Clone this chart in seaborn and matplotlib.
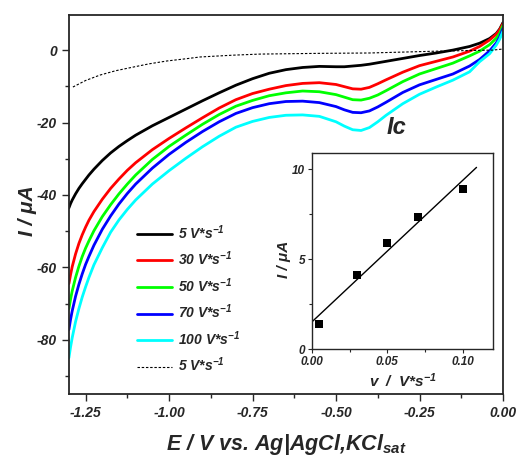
import numpy as np
import pandas as pd
import matplotlib
matplotlib.use("Agg")
import matplotlib.pyplot as plt
import seaborn as sns
from matplotlib.ticker import MultipleLocator, FormatStrFormatter

# potential grid (V vs Ag/AgCl) shared by the five CVs
E = [-1.30, -1.295, -1.29, -1.28, -1.27, -1.26, -1.25, -1.24, -1.225, -1.20,
     -1.175, -1.15, -1.125, -1.10, -1.05, -1.00, -0.95, -0.90, -0.85, -0.80,
     -0.75, -0.70, -0.65, -0.60, -0.55, -0.50, -0.475, -0.45, -0.425, -0.40,
     -0.375, -0.35, -0.30, -0.25, -0.20, -0.15, -0.10, -0.07, -0.04, -0.02,
     -0.01, 0.0]

# current (uA) for each scan rate
i_5 = [-43.6, -42.4, -41.4, -39.7, -38.2, -36.9, -35.7, -34.5, -32.9, -30.5,
       -28.4, -26.6, -25.0, -23.5, -20.9, -18.6, -16.3, -14.0, -11.8, -9.7,
       -7.9, -6.4, -5.4, -4.8, -4.5, -4.6, -4.6, -4.4, -4.2, -3.9,
       -3.5, -3.1, -2.3, -1.5, -0.8, 0.0, 1.0, 1.9, 3.2, 4.6,
       5.8, 7.6]
i_30 = [-64.5, -62.0, -59.8, -56.3, -53.4, -51.0, -48.9, -47.0, -44.6, -41.2,
        -38.2, -35.6, -33.2, -31.1, -27.5, -24.4, -21.5, -18.7, -16.0, -13.7,
        -12.0, -10.8, -9.8, -9.2, -9.0, -9.5, -10.1, -10.7, -10.8, -10.3,
        -9.3, -8.2, -6.1, -4.3, -3.1, -1.9, -0.3, 1.0, 2.8, 4.4,
        5.6, 7.3]
i_50 = [-71.5, -68.8, -66.5, -62.8, -59.7, -57.0, -54.7, -52.7, -49.9, -46.0,
        -42.7, -39.7, -37.0, -34.5, -30.2, -26.6, -23.5, -20.5, -17.8, -15.5,
        -13.9, -12.6, -11.8, -11.3, -11.5, -12.3, -13.0, -13.7, -13.8, -13.3,
        -12.4, -11.2, -8.7, -6.6, -5.1, -3.6, -1.6, -0.3, 1.5, 3.3,
        4.6, 6.8]
i_70 = [-77.2, -74.4, -72.0, -68.0, -64.7, -61.8, -59.2, -57.0, -53.9, -49.5,
        -45.8, -42.5, -39.6, -37.0, -32.6, -28.8, -25.5, -22.5, -19.8, -17.5,
        -15.9, -14.8, -14.2, -14.1, -14.5, -15.6, -16.5, -17.2, -17.3, -16.8,
        -15.7, -14.4, -11.7, -9.6, -8.1, -6.6, -4.4, -2.6, -0.2, 2.0,
        3.6, 6.0]
i_100 = [-85.0, -82.0, -79.4, -75.0, -71.4, -68.2, -65.4, -62.8, -59.3, -54.6,
         -50.3, -46.9, -44.0, -41.4, -37.0, -33.3, -29.9, -26.7, -23.8, -21.3,
         -19.7, -18.6, -18.0, -17.9, -18.3, -19.8, -21.0, -22.0, -22.2, -21.4,
         -19.8, -18.0, -14.8, -12.2, -10.2, -8.3, -6.0, -3.2, -1.0, 1.4,
         3.0, 5.2]

# blank electrode at 5 V/s (dashed)
blank_E = [-1.288, -1.25, -1.207, -1.16, -1.108, -1.06, -1.006, -0.95, -0.907,
           -0.808, -0.727, -0.55, -0.40, -0.20, -0.03, 0.0]
blank_I = [-10.2, -8.4, -6.9, -5.7, -4.7, -3.8, -3.0, -2.4, -1.9,
           -1.4, -1.1, -0.9, -0.8, -0.3, 0.0, 0.3]

rate_labels = ["5", "30", "50", "70", "100"]
rate_colors = ["black", "red", "#00ff00", "blue", "cyan"]

# inset: peak current vs scan rate
inset_v = [0.005, 0.03, 0.05, 0.07, 0.10]
inset_I = [1.4, 4.1, 5.9, 7.35, 8.9]

sns.set_style("ticks")
plt.rcParams["font.family"] = ["Liberation Sans", "DejaVu Sans"]
plt.rcParams["font.weight"] = "bold"
plt.rcParams["font.style"] = "italic"
plt.rcParams["axes.labelweight"] = "bold"
plt.rcParams["mathtext.fontset"] = "custom"
plt.rcParams["mathtext.rm"] = "Liberation Sans:bold:italic"
plt.rcParams["mathtext.it"] = "Liberation Sans:bold:italic"
plt.rcParams["mathtext.default"] = "regular"
plt.rcParams["axes.unicode_minus"] = False

df = pd.DataFrame({
    "E": E * 5,
    "I": i_5 + i_30 + i_50 + i_70 + i_100,
    "rate": sum([[r] * len(E) for r in rate_labels], []),
})

fig = plt.figure(figsize=(5.18, 4.68), dpi=100)
ax = fig.add_axes([0.133, 0.158, 0.838, 0.810])

sns.lineplot(data=df, x="E", y="I", hue="rate", hue_order=rate_labels,
             palette=rate_colors, sort=False, estimator=None, lw=2.0,
             legend=False, ax=ax)
sns.lineplot(x=blank_E, y=blank_I, color="black", lw=0.8, sort=False,
             estimator=None, ax=ax, linestyle=(0, (2.2, 1.6)))

ax.set_xlim(-1.3, 0.0)
ax.set_ylim(-95, 9.7)
ax.xaxis.set_major_locator(MultipleLocator(0.25))
ax.xaxis.set_minor_locator(MultipleLocator(0.125))
ax.xaxis.set_major_formatter(FormatStrFormatter("%.2f"))
ax.yaxis.set_major_locator(MultipleLocator(20))
ax.yaxis.set_minor_locator(MultipleLocator(10))
ax.tick_params(which="both", direction="out", width=1.0, labelsize=10,
               top=False, right=False)
ax.tick_params(which="major", length=5)
ax.tick_params(which="minor", length=3)
for lab in ax.get_xticklabels() + ax.get_yticklabels():
    lab.set_fontweight("bold")
for s in ax.spines.values():
    s.set_linewidth(1.3)
    s.set_visible(True)

ax.set_xlabel(r"E / V vs. Ag|AgCl,KCl$_{sat}$", fontsize=15.5)
ax.xaxis.set_label_coords(0.5, -0.100)
ax.set_ylabel("I / \u03bcA", fontsize=15)
ax.yaxis.set_label_coords(-0.074, 0.485)

ax.text(-0.319, -21.5, "Ic", fontsize=17, ha="center", va="center",
        fontweight="bold")

handles = ax.get_lines()
labels = [f"{r} V*s$^{{-1}}$" for r in rate_labels] + ["5 V*s$^{-1}$"]
ax.legend(handles[:6], labels, loc="upper left", bbox_to_anchor=(0.2645, 0.523),
          bbox_transform=fig.transFigure, frameon=False,
          prop={"size": 10, "weight": "bold", "style": "italic"},
          handlelength=2.5, handletextpad=0.45, labelspacing=0.57,
          borderaxespad=0, borderpad=0)

# inset
axin = fig.add_axes([0.602, 0.254, 0.350, 0.419])
slope, intercept = np.polyfit(inset_v, inset_I, 1)
fit_x = np.linspace(0.0, 0.109, 2)
sns.lineplot(x=fit_x, y=slope * fit_x + intercept, color="black", lw=1.0, ax=axin)
sns.scatterplot(x=inset_v, y=inset_I, marker="s", color="black", s=36,
                linewidth=0, ax=axin, zorder=3)
axin.set_xlim(0.0, 0.12)
axin.set_ylim(0, 10.9)
axin.xaxis.set_major_locator(MultipleLocator(0.05))
axin.xaxis.set_minor_locator(MultipleLocator(0.025))
axin.xaxis.set_major_formatter(FormatStrFormatter("%.2f"))
axin.yaxis.set_major_locator(MultipleLocator(5))
axin.yaxis.set_minor_locator(MultipleLocator(2.5))
axin.tick_params(which="both", direction="out", width=0.8, labelsize=8.5,
                 top=False, right=False, pad=2)
axin.tick_params(which="major", length=3)
axin.tick_params(which="minor", length=2)
for lab in axin.get_xticklabels() + axin.get_yticklabels():
    lab.set_fontweight("bold")
for s in axin.spines.values():
    s.set_linewidth(1.0)
    s.set_visible(True)
axin.set_xlabel("v  /  V*s$^{-1}$", fontsize=11)
axin.xaxis.set_label_coords(0.503, -0.115)
axin.set_ylabel("I / \u03bcA", fontsize=11)
axin.yaxis.set_label_coords(-0.115, 0.459)

fig.savefig("out.png", dpi=100)
